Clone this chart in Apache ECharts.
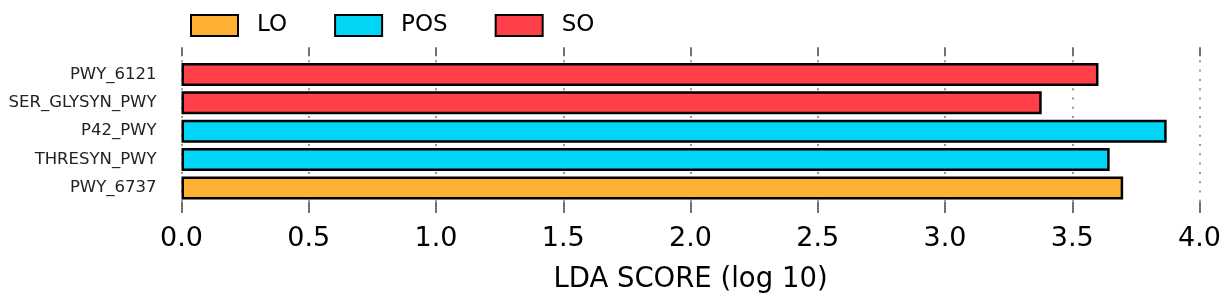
<!DOCTYPE html>
<html>
<head>
<meta charset="utf-8">
<script src="https://cdn.jsdelivr.net/npm/echarts@6/dist/echarts.min.js"></script>
<style>
  html, body { margin: 0; padding: 0; background: #fff; }
  #lda { width: 1228px; height: 301px; }
</style>
</head>
<body>
<div id="lda"></div>
<script>
// 数据
var pathways = ['PWY_6121', 'SER_GLYSYN_PWY', 'P42_PWY', 'THRESYN_PWY', 'PWY_6737'];
var loScore  = ['-', '-', '-', '-', 3.700];
var posScore = ['-', '-', 3.871, 3.647, '-'];
var soScore  = [3.603, 3.380, '-', '-', '-'];
var xTicks   = [0, 0.5, 1.0, 1.5, 2.0, 2.5, 3.0, 3.5, 4.0];

var myChart = echarts.init(document.getElementById('lda'));

function barSeries(name, color, data) {
    return {
        name: name,
        type: 'bar',
        stack: 'lda',
        barWidth: 23,
        itemStyle: {
            color: color,
            borderColor: '#000',
            borderWidth: 2.5
        },
        data: data
    };
}

var option = {
    animation: false,
    textStyle: { fontFamily: 'DejaVu Sans' },
    legend: {
        left: 190,
        top: 14,
        padding: 0,
        itemWidth: 47,
        itemHeight: 21,
        itemGap: 47,
        icon: 'rect',
        textStyle: {
            fontSize: 23,
            color: '#000',
            padding: [0, 0, 0, 14]
        },
        data: ['LO', 'POS', 'SO']
    },
    grid: {
        left: 181.5,
        right: 28.5,
        top: 60.3,
        bottom: 98.9
    },
    xAxis: [{
        type: 'value',
        min: 0,
        max: 4,
        interval: 0.5,
        name: 'LDA SCORE (log 10)',
        nameLocation: 'middle',
        nameGap: 64,
        nameTextStyle: { fontSize: 27.5, color: '#000' },
        axisLine: { show: false },
        axisTick: { show: true, length: 11, lineStyle: { color: '#444', width: 1.5 } },
        axisLabel: {
            fontSize: 27,
            color: '#000',
            margin: 23,
            formatter: function (v) { return v.toFixed(1); }
        },
        splitLine: {
            show: true,
            lineStyle: { color: '#777', width: 1.5, type: [2, 7.3] }
        }
    }, {
        type: 'value',
        position: 'top',
        min: 0,
        max: 4,
        interval: 0.5,
        offset: 4,
        axisLine: { show: false },
        axisTick: { show: true, length: 9, lineStyle: { color: '#444', width: 1.5 } },
        axisLabel: { show: false },
        splitLine: { show: false }
    }],
    yAxis: {
        type: 'category',
        inverse: true,
        data: pathways,
        axisLine: { show: false },
        axisTick: { show: false },
        axisLabel: { fontSize: 16.5, color: '#222', margin: 25 }
    },
    series: [
        barSeries('LO', '#FFB032', loScore),
        barSeries('POS', '#00D5F5', posScore),
        barSeries('SO', '#FF404A', soScore)
    ]
};

myChart.setOption(option);
</script>
</body>
</html>
